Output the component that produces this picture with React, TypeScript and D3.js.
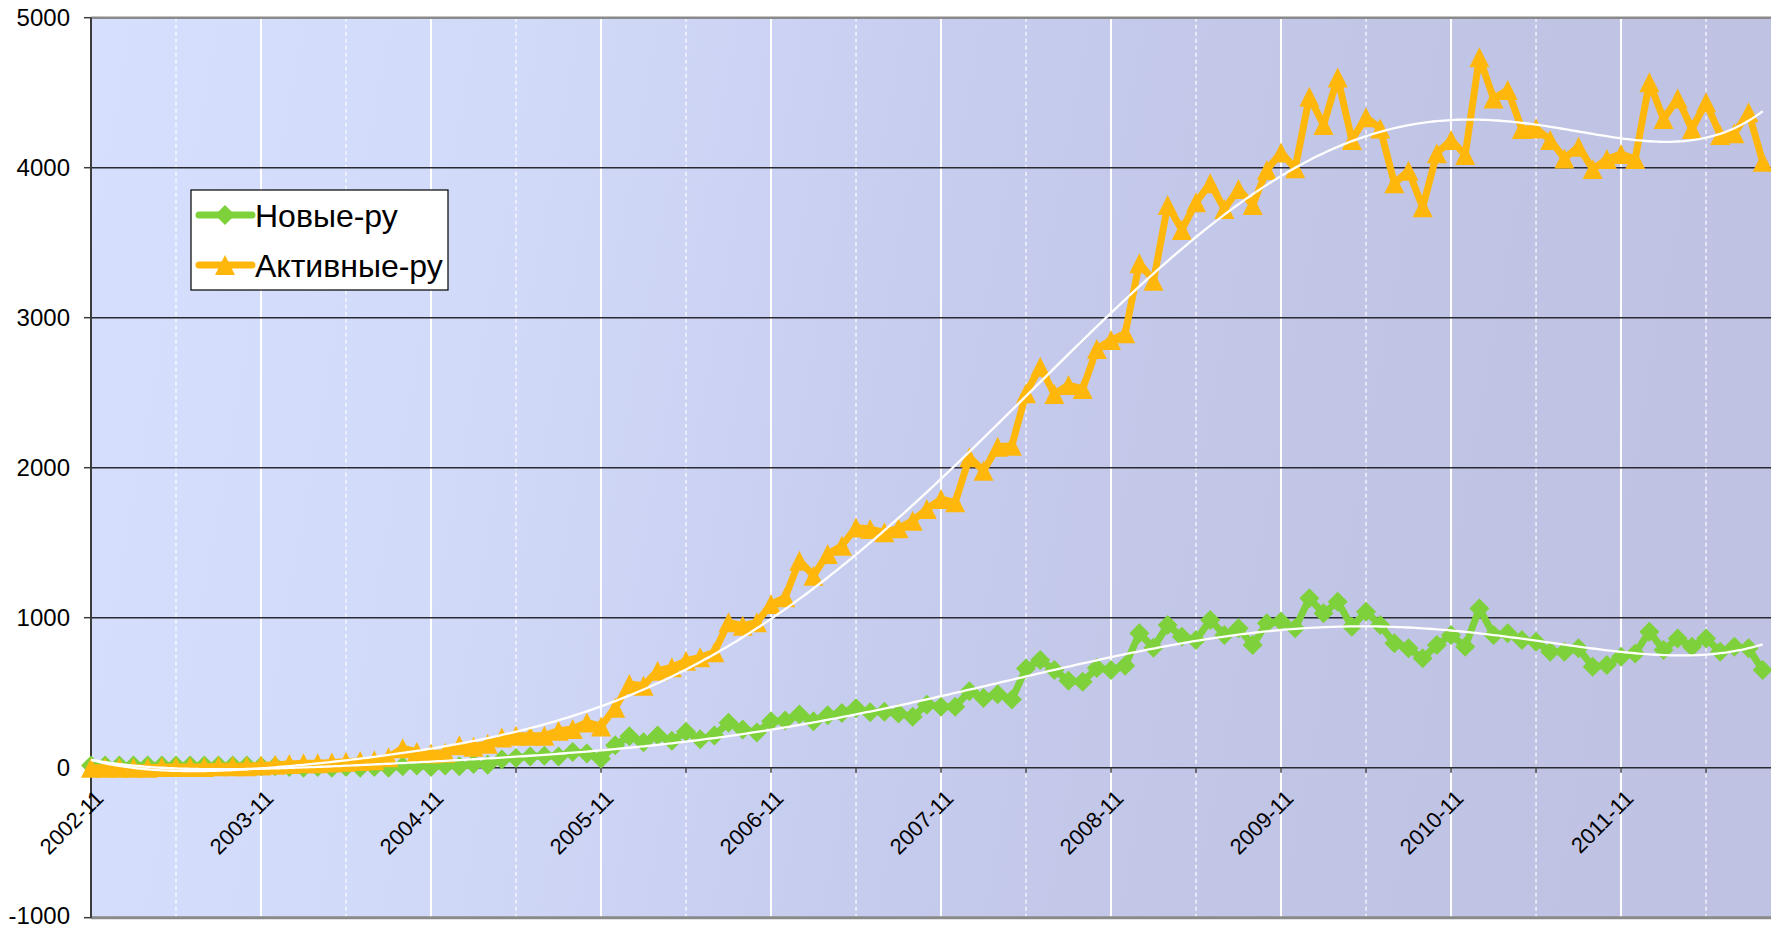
import React from 'react'
import * as d3 from 'd3'

const yearLabels = ['2002-11', '2003-11', '2004-11', '2005-11', '2006-11', '2007-11', '2008-11', '2009-11', '2010-11', '2011-11']
const yTicks = [-1000, 0, 1000, 2000, 3000, 4000, 5000]

// monthly values starting 2002-11
const novye = [
  15, 15, 15, 15, 15, 15, 15, 15, 15, 15, 15, 15,
  10, 10, 5, 0, 5, 0, 5, 0, 5, 0, 10, 15,
  5, 15, 10, 25, 20, 55, 65, 75, 80, 75, 105, 95,
  60, 150, 210, 170, 215, 180, 240, 190, 215, 300, 255, 235,
  310, 315, 355, 310, 350, 365, 396, 370, 373, 362, 340, 420,
  407, 407, 510, 465, 490, 455, 662, 718, 651, 580, 573, 665,
  651, 680, 896, 800, 951, 873, 851, 985, 885, 929, 818, 963,
  974, 929, 1129, 1029, 1107, 940, 1040, 951, 829, 796, 729, 818,
  885, 807, 1062, 885, 896, 851, 840, 773, 773, 796, 673, 685,
  740, 762, 907, 785, 862, 807, 862, 773, 807, 796, 651,
]
const aktivnye = [
  0, 0, 0, 0, 0, 5, 5, 5, 5, 10, 10, 10,
  15, 20, 25, 30, 30, 35, 40, 45, 50, 70, 130, 105,
  95, 100, 150, 140, 160, 202, 213, 213, 213, 247, 258, 302,
  275, 400, 558, 547, 647, 669, 713, 736, 769, 969, 947, 969,
  1091, 1136, 1380, 1280, 1425, 1480, 1602, 1591, 1569, 1596, 1647, 1724,
  1791, 1769, 2069, 1980, 2140, 2147, 2496, 2673, 2491, 2551, 2525, 2791,
  2851, 2896, 3363, 3247, 3751, 3585, 3769, 3896, 3725, 3858, 3751, 3985,
  4102, 3996, 4473, 4285, 4602, 4185, 4336, 4262, 3896, 3980, 3736, 4096,
  4185, 4085, 4736, 4462, 4518, 4258, 4262, 4185, 4062, 4140, 3991, 4058,
  4091, 4058, 4569, 4324, 4462, 4258, 4436, 4218, 4229, 4369, 4040,
]

const W = 1771
const H = 929
const FONT = '"Liberation Sans", Arial, sans-serif'
const GREEN = '#7ed13b'
const ORANGE = '#ffb70c'

// least squares polynomial, like the Excel trendline
function polyFit(ys, degree) {
  const n = ys.length
  const mid = (n - 1) / 2
  const m = degree + 1
  const A = Array.from({ length: m }, () => new Array(m + 1).fill(0))
  ys.forEach((y, k) => {
    const t = (k - mid) / mid
    const pw = [1]
    for (let j = 1; j < 2 * m; j++) pw.push(pw[j - 1] * t)
    for (let r = 0; r < m; r++) {
      for (let c = 0; c < m; c++) A[r][c] += pw[r + c]
      A[r][m] += pw[r] * y
    }
  })
  for (let c = 0; c < m; c++) {
    let p = c
    for (let r = c + 1; r < m; r++) if (Math.abs(A[r][c]) > Math.abs(A[p][c])) p = r
    ;[A[c], A[p]] = [A[p], A[c]]
    for (let r = 0; r < m; r++) {
      if (r === c) continue
      const f = A[r][c] / A[c][c]
      for (let k = c; k <= m; k++) A[r][k] -= f * A[c][k]
    }
  }
  const coef = A.map((row, r) => row[m] / row[r])
  return i => {
    const t = (i - mid) / mid
    return coef.reduce((s, a, j) => s + a * Math.pow(t, j), 0)
  }
}

const diamond = s => `M0,${-s / 2}L${s / 2},0L0,${s / 2}L${-s / 2},0Z`
const triangle = s => `M0,${-s / 2}L${s / 2},${s / 2}L${-s / 2},${s / 2}Z`

export default function App() {
  const x = d3.scaleLinear().domain([0, 120]).range([91, 91 + 14.167 * 120])
  const y = d3.scaleLinear().domain([-1000, 5000]).range([917.7, 17.7])
  const left = x(0)
  const right = x(120)

  const line = d3.line().x((d, i) => x(i)).y(d => y(d))
  const months = d3.range(0, 121, 6)
  const fitN = polyFit(novye, 6)
  const fitA = polyFit(aktivnye, 6)
  const samples = d3.range(0, novye.length - 1 + 0.01, 0.25)
  const trend = f => d3.line().x(t => x(t)).y(t => y(f(t)))(samples)

  return (
    <svg width={W} height={H} style={{ position: 'absolute', left: 0, top: 0, background: '#fff' }}>
      <defs>
        <linearGradient id="bg" gradientUnits="userSpaceOnUse" x1={left} y1={0} x2={W} y2={300}>
          <stop offset="0%" stopColor="#d6dffe" />
          <stop offset="25%" stopColor="#d2daf9" />
          <stop offset="50%" stopColor="#c7cdef" />
          <stop offset="75%" stopColor="#c1c5e6" />
          <stop offset="100%" stopColor="#bfc2e2" />
        </linearGradient>
      </defs>
      <rect x={left} y={y(5000)} width={right - left} height={y(-1000) - y(5000)} fill="url(#bg)" />

      {months.filter(m => m > 0).map(m => (
        <line key={m} x1={x(m)} x2={x(m)} y1={y(5000)} y2={y(-1000)} stroke="#fff"
          strokeWidth={m % 12 === 0 ? 2 : 1.2} strokeDasharray={m % 12 === 0 ? null : '4,3'} />
      ))}
      {yTicks.filter(v => v > -1000 && v < 5000).map(v => (
        <line key={v} x1={left} x2={right} y1={y(v)} y2={y(v)} stroke="#2a2a33" strokeWidth={1.4} />
      ))}
      {months.map(m => (
        <line key={m} x1={x(m)} x2={x(m)} y1={y(0)} y2={y(0) + 5} stroke="#444" strokeWidth={1.5} />
      ))}
      <line x1={left} x2={right} y1={y(5000)} y2={y(5000)} stroke="#8a8a8a" strokeWidth={2.5} />
      <line x1={left} x2={right} y1={y(-1000)} y2={y(-1000)} stroke="#8a8a8a" strokeWidth={3} />
      <line x1={left} x2={left} y1={y(5000)} y2={y(-1000)} stroke="#3c3c3c" strokeWidth={2} />
      {yTicks.map(v => (
        <g key={v}>
          <line x1={left - 7} x2={left} y1={y(v)} y2={y(v)} stroke="#3c3c3c" strokeWidth={1.5} />
          <text x={70} y={y(v)} dy={v === -1000 ? '0.28em' : '0.36em'} textAnchor="end"
            fontFamily={FONT} fontSize={24}>{v}</text>
        </g>
      ))}
      {yearLabels.map((lab, k) => {
        const px = x(k * 12) + 14
        const py = y(0) + 32
        return (
          <text key={lab} x={px} y={py} textAnchor="end" fontFamily={FONT} fontSize={22}
            transform={`rotate(-45 ${px} ${py})`}>{lab}</text>
        )
      })}

      <path d={line(novye)} fill="none" stroke={GREEN} strokeWidth={7} strokeLinejoin="round" />
      {novye.map((v, i) => (
        <path key={i} d={diamond(20)} transform={`translate(${x(i)},${y(v)})`} fill={GREEN} />
      ))}
      <path d={line(aktivnye)} fill="none" stroke={ORANGE} strokeWidth={7} strokeLinejoin="round" />
      {aktivnye.map((v, i) => (
        <path key={i} d={triangle(20)} transform={`translate(${x(i)},${y(v)})`} fill={ORANGE} />
      ))}
      <path d={trend(fitN)} fill="none" stroke="#fff" strokeWidth={2.3} />
      <path d={trend(fitA)} fill="none" stroke="#fff" strokeWidth={2.3} />

      <g>
        <rect x={191} y={190} width={257} height={100} fill="#fff" stroke="#000" strokeWidth={1.2} />
        <line x1={199} x2={252} y1={215} y2={215} stroke={GREEN} strokeWidth={7} strokeLinecap="round" />
        <path d={diamond(20)} transform="translate(225,215)" fill={GREEN} />
        <text x={255} y={215} dy="0.36em" fontFamily={FONT} fontSize={32}>Новые-ру</text>
        <line x1={199} x2={252} y1={265} y2={265} stroke={ORANGE} strokeWidth={7} strokeLinecap="round" />
        <path d={triangle(20)} transform="translate(225,265)" fill={ORANGE} />
        <text x={255} y={265} dy="0.36em" fontFamily={FONT} fontSize={32}>Активные-ру</text>
      </g>
    </svg>
  )
}
